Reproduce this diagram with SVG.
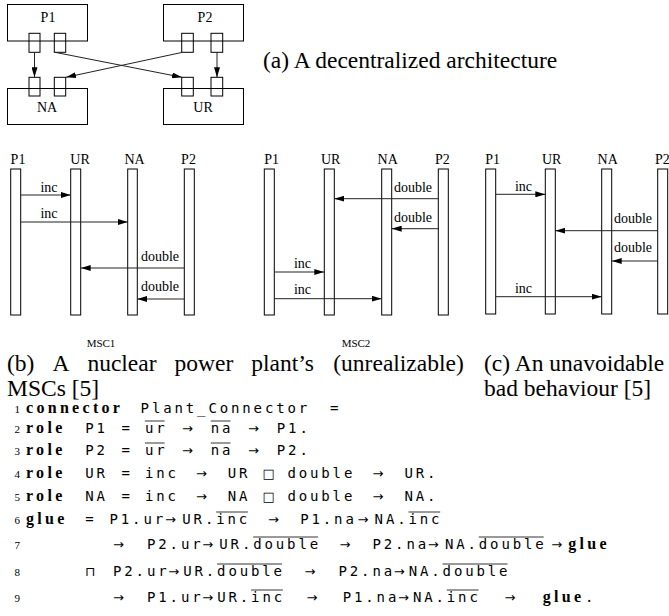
<svg xmlns="http://www.w3.org/2000/svg" width="669" height="616" viewBox="0 0 669 616">
<style>
.b{fill:none;stroke:#000;stroke-width:1}
.ln2{stroke:#222;stroke-width:1;fill:none}
.lbl{font-family:"Liberation Serif",serif;font-size:14px;fill:#000}
.mid{text-anchor:middle}
.cap{font-family:"Liberation Serif",serif;font-size:23.5px;fill:#000}
.msc{font-family:"Liberation Serif",serif;font-size:11px;fill:#000;text-anchor:middle}
.code{font-family:"DejaVu Sans Mono",monospace;font-size:14px;letter-spacing:2.87px;fill:#000}
.kw{font-family:"Liberation Serif",serif;font-weight:bold;font-size:16px;letter-spacing:3.3px;fill:#000}
.num{font-family:"Liberation Serif",serif;font-size:11px;text-anchor:end;fill:#000}
.sym{font-family:"DejaVu Sans",sans-serif;font-size:13px;fill:#000}
.ov{stroke:#000;stroke-width:0.8}
</style>
<defs>
<marker id="ah" viewBox="0 0 10 6" refX="10" refY="3" markerWidth="10" markerHeight="6" markerUnits="userSpaceOnUse" orient="auto"><path d="M0,0 L10,3 L0,6 z" fill="#000"/></marker>
</defs>
<rect width="669" height="616" fill="#fff"/>

<!-- (a) architecture -->
<g id="P1box">
<rect class="b" x="7.5" y="4.5" width="80" height="36.5"/>
<rect class="b" x="29" y="33.3" width="11" height="19"/>
<rect class="b" x="54.3" y="33.3" width="11.4" height="19"/>
<text class="lbl mid" x="48" y="22">P1</text>
</g>
<g id="P2box">
<rect class="b" x="163.5" y="4.5" width="80" height="36.5"/>
<rect class="b" x="181.7" y="33.3" width="11.6" height="19"/>
<rect class="b" x="211" y="33.3" width="11.7" height="19"/>
<text class="lbl mid" x="205" y="22">P2</text>
</g>
<g id="NAbox">
<rect class="b" x="7.5" y="88.5" width="80" height="36"/>
<rect class="b" x="29" y="77.3" width="11" height="18.7"/>
<rect class="b" x="54.3" y="77.3" width="11.4" height="18.7"/>
<text class="lbl mid" x="47" y="112">NA</text>
</g>
<g id="URbox">
<rect class="b" x="163.5" y="88.5" width="80" height="36"/>
<rect class="b" x="181.7" y="77.3" width="11.6" height="18.7"/>
<rect class="b" x="211" y="77.3" width="11.7" height="18.7"/>
<text class="lbl mid" x="203" y="112">UR</text>
</g>
<g id="arch-connectors">
<line class="ln2" x1="34.5" y1="52.3" x2="34.5" y2="77.3" marker-end="url(#ah)"/>
<line class="ln2" x1="55" y1="52.3" x2="182" y2="77.3" marker-end="url(#ah)"/>
<line class="ln2" x1="182.5" y1="52.3" x2="66" y2="77.3" marker-end="url(#ah)"/>
<line class="ln2" x1="217" y1="52.3" x2="217" y2="77.3" marker-end="url(#ah)"/>
</g>
<text class="cap" x="263" y="68">(a) A decentralized architecture</text>

<!-- MSC1 -->
<g id="msc1">
<g id="msc1-lifelines">
<rect class="b" x="10.7" y="169" width="10" height="146"/>
<rect class="b" x="70.7" y="169" width="10" height="146"/>
<rect class="b" x="127.7" y="169" width="9.6" height="146"/>
<rect class="b" x="184.3" y="169" width="10" height="146"/>
<text class="lbl mid" x="18" y="164">P1</text>
<text class="lbl mid" x="80" y="164">UR</text>
<text class="lbl mid" x="134.5" y="164">NA</text>
<text class="lbl mid" x="188.5" y="164">P2</text>
</g>
<g id="msc1-messages">
<line class="ln2" x1="20.7" y1="195" x2="70.7" y2="195" marker-end="url(#ah)"/>
<line class="ln2" x1="20.7" y1="222" x2="127.7" y2="222" marker-end="url(#ah)"/>
<line class="ln2" x1="184.3" y1="268" x2="80.7" y2="268" marker-end="url(#ah)"/>
<line class="ln2" x1="184.3" y1="299" x2="137.3" y2="299" marker-end="url(#ah)"/>
<text class="lbl mid" x="49" y="192">inc</text>
<text class="lbl mid" x="49" y="218">inc</text>
<text class="lbl mid" x="160" y="261">double</text>
<text class="lbl mid" x="160" y="291">double</text>
</g>
<text class="msc" x="101" y="347">MSC1</text>
</g>

<!-- MSC2 -->
<g id="msc2">
<g id="msc2-lifelines">
<rect class="b" x="264.3" y="169" width="10" height="146"/>
<rect class="b" x="324.3" y="169" width="10" height="146"/>
<rect class="b" x="381.7" y="169" width="10" height="146"/>
<rect class="b" x="438.3" y="169" width="10" height="146"/>
<text class="lbl mid" x="271.7" y="164">P1</text>
<text class="lbl mid" x="330.7" y="164">UR</text>
<text class="lbl mid" x="387.7" y="164">NA</text>
<text class="lbl mid" x="442.3" y="164">P2</text>
</g>
<g id="msc2-messages">
<line class="ln2" x1="438.3" y1="198.7" x2="334.3" y2="198.7" marker-end="url(#ah)"/>
<line class="ln2" x1="438.3" y1="228.7" x2="391.7" y2="228.7" marker-end="url(#ah)"/>
<line class="ln2" x1="274.3" y1="272" x2="324.3" y2="272" marker-end="url(#ah)"/>
<line class="ln2" x1="274.3" y1="298.7" x2="381.7" y2="298.7" marker-end="url(#ah)"/>
<text class="lbl mid" x="413" y="192">double</text>
<text class="lbl mid" x="413" y="221.7">double</text>
<text class="lbl mid" x="302.5" y="267.7">inc</text>
<text class="lbl mid" x="302.5" y="294.3">inc</text>
</g>
<text class="msc" x="356" y="347">MSC2</text>
</g>

<!-- MSC3 -->
<g id="msc3">
<g id="msc3-lifelines">
<rect class="b" x="485.7" y="169" width="10" height="145"/>
<rect class="b" x="545.3" y="169" width="10" height="145"/>
<rect class="b" x="601.7" y="169" width="10" height="145"/>
<rect class="b" x="657.7" y="169" width="10" height="145"/>
<text class="lbl mid" x="492.7" y="164">P1</text>
<text class="lbl mid" x="551.7" y="164">UR</text>
<text class="lbl mid" x="607.7" y="164">NA</text>
<text class="lbl mid" x="662.3" y="164">P2</text>
</g>
<g id="msc3-messages">
<line class="ln2" x1="495.7" y1="194.3" x2="545.3" y2="194.3" marker-end="url(#ah)"/>
<line class="ln2" x1="657.7" y1="230.7" x2="555.3" y2="230.7" marker-end="url(#ah)"/>
<line class="ln2" x1="657.7" y1="261" x2="611.7" y2="261" marker-end="url(#ah)"/>
<line class="ln2" x1="495.7" y1="296.7" x2="601.7" y2="296.7" marker-end="url(#ah)"/>
<text class="lbl mid" x="523.5" y="191">inc</text>
<text class="lbl mid" x="633" y="223.3">double</text>
<text class="lbl mid" x="633" y="252.3">double</text>
<text class="lbl mid" x="523.5" y="293.3">inc</text>
</g>
</g>

<!-- captions -->
<g id="caption-b">
<text class="cap" y="371"><tspan x="7">(b)</tspan><tspan x="52.4">A</tspan><tspan x="87.4">nuclear</tspan><tspan x="174.6">power</tspan><tspan x="251.3">plant’s</tspan><tspan x="333.3">(unrealizable)</tspan></text>
<text class="cap" x="7" y="396">MSCs [5]</text>
</g>
<g id="caption-c">
<text class="cap" x="484" y="371">(c) An unavoidable</text>
<text class="cap" x="484" y="396">bad behaviour [5]</text>
</g>

<!-- code listing -->
<g id="code">
<text class="num" x="20" y="413">1</text>
<text class="kw" x="26" y="413">connector</text>
<text class="code" x="140.6" y="413">Plant_Connector</text>
<text class="code" x="330" y="413">=</text>

<text class="num" x="20" y="433">2</text>
<text class="kw" x="26" y="433">role</text>
<text class="code" x="85.3" y="433">P1</text>
<text class="code" x="121.5" y="433">=</text>
<text class="code" x="144.9" y="433">ur</text>
<line class="ov" x1="144.9" y1="421" x2="164.6" y2="421"/>
<text class="sym" x="182" y="433">→</text>
<text class="code" x="210.8" y="433">na</text>
<line class="ov" x1="210.8" y1="421" x2="230.5" y2="421"/>
<text class="sym" x="248" y="433">→</text>
<text class="code" x="276.8" y="433">P1.</text>

<text class="num" x="20" y="455">3</text>
<text class="kw" x="26" y="455">role</text>
<text class="code" x="85.3" y="455">P2</text>
<text class="code" x="121.5" y="455">=</text>
<text class="code" x="144.9" y="455">ur</text>
<line class="ov" x1="144.9" y1="443" x2="164.6" y2="443"/>
<text class="sym" x="182" y="455">→</text>
<text class="code" x="210.8" y="455">na</text>
<line class="ov" x1="210.8" y1="443" x2="230.5" y2="443"/>
<text class="sym" x="248" y="455">→</text>
<text class="code" x="276.8" y="455">P2.</text>

<text class="num" x="20" y="478">4</text>
<text class="kw" x="26" y="478">role</text>
<text class="code" x="85.3" y="478">UR</text>
<text class="code" x="121.5" y="478">=</text>
<text class="code" x="144.9" y="478">inc</text>
<text class="sym" x="196" y="478">→</text>
<text class="code" x="227.8" y="478">UR</text>
<text class="sym" x="262.5" y="478">□</text>
<text class="code" x="287.4" y="478">double</text>
<text class="sym" x="372.5" y="478">→</text>
<text class="code" x="404.4" y="478">UR.</text>

<text class="num" x="20" y="501">5</text>
<text class="kw" x="26" y="501">role</text>
<text class="code" x="85.3" y="501">NA</text>
<text class="code" x="121.5" y="501">=</text>
<text class="code" x="144.9" y="501">inc</text>
<text class="sym" x="196" y="501">→</text>
<text class="code" x="227.8" y="501">NA</text>
<text class="sym" x="262.5" y="501">□</text>
<text class="code" x="287.4" y="501">double</text>
<text class="sym" x="372.5" y="501">→</text>
<text class="code" x="404.4" y="501">NA.</text>

<text class="num" x="20" y="524">6</text>
<text class="kw" x="26" y="524">glue</text>
<text class="code" x="85.3" y="524">=</text>
<text class="code" x="109.5" y="524">P1.ur</text>
<text class="sym" x="164.9" y="524">→</text>
<text class="code" x="182.3" y="524">UR.inc</text>
<line class="ov" x1="216.2" y1="512" x2="247.9" y2="512"/>
<text class="sym" x="268" y="524">→</text>
<text class="code" x="300.2" y="524">P1.na</text>
<text class="sym" x="357.6" y="524">→</text>
<text class="code" x="374.6" y="524">NA.inc</text>
<line class="ov" x1="408.5" y1="512" x2="440.2" y2="512"/>

<text class="num" x="20" y="549">7</text>
<text class="sym" x="113" y="549">→</text>
<text class="code" x="147" y="549">P2.ur</text>
<text class="sym" x="202.3" y="549">→</text>
<text class="code" x="219.3" y="549">UR.double</text>
<line class="ov" x1="253.2" y1="537" x2="318.1" y2="537"/>
<text class="sym" x="339.5" y="549">→</text>
<text class="code" x="372.5" y="549">P2.na</text>
<text class="sym" x="427.8" y="549">→</text>
<text class="code" x="444.9" y="549">NA.double</text>
<line class="ov" x1="478.8" y1="537" x2="543.7" y2="537"/>
<text class="sym" x="551.2" y="549">→</text>
<text class="kw" x="568.3" y="549">glue</text>

<text class="num" x="20" y="576">8</text>
<text class="sym" x="85.3" y="576">⊓</text>
<text class="code" x="113" y="576">P2.ur</text>
<text class="sym" x="168.3" y="576">→</text>
<text class="code" x="183.2" y="576">UR.double</text>
<line class="ov" x1="217.1" y1="564" x2="282" y2="564"/>
<text class="sym" x="304.5" y="576">→</text>
<text class="code" x="338.5" y="576">P2.na</text>
<text class="sym" x="393.8" y="576">→</text>
<text class="code" x="408.7" y="576">NA.double</text>
<line class="ov" x1="442.6" y1="564" x2="507.5" y2="564"/>

<text class="num" x="20" y="602">9</text>
<text class="sym" x="113" y="602">→</text>
<text class="code" x="147" y="602">P1.ur</text>
<text class="sym" x="202.3" y="602">→</text>
<text class="code" x="217.2" y="602">UR.inc</text>
<line class="ov" x1="251.1" y1="590" x2="282.9" y2="590"/>
<text class="sym" x="306.5" y="602">→</text>
<text class="code" x="342.7" y="602">P1.na</text>
<text class="sym" x="398" y="602">→</text>
<text class="code" x="412.9" y="602">NA.inc</text>
<line class="ov" x1="446.8" y1="590" x2="478.6" y2="590"/>
<text class="sym" x="504.5" y="602">→</text>
<text class="kw" x="542.7" y="602">glue</text>
<text class="code" x="585" y="602">.</text>
</g>
</svg>
